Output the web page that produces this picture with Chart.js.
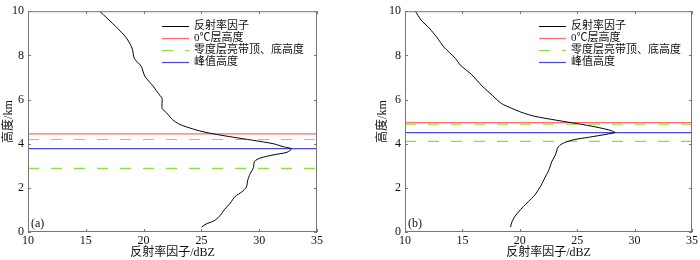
<!DOCTYPE html>
<html>
<head>
<meta charset="utf-8">
<script src="https://cdn.jsdelivr.net/npm/chart.js@4"></script>
<style>
  body { margin: 0; background: #fff; }
  .wrap { position: relative; width: 700px; height: 260px; }
  .box { position: absolute; top: 0; width: 350px; height: 260px; }
</style>
</head>
<body>
<div class="wrap">
  <div class="box" style="left:0"><canvas id="chartA"></canvas></div>
  <div class="box" style="left:350px"><canvas id="chartB"></canvas></div>
</div>
<script>
// (a) reflectivity profile
var dbzA = [16.2, 17.6, 18.5, 19.0, 19.2, 19.8, 20.1, 20.8, 21.4, 21.6, 21.6, 22.0, 22.5, 23.1, 24.3, 25.4, 27.2, 29.5, 31.2, 32.1, 32.8, 32.4, 31.2, 30.1, 29.6, 29.5, 29.2, 29.0, 28.9, 28.5, 27.9, 27.5, 27.0, 26.6, 26.1, 25.4, 25.0];
var hgtA = [10.0, 9.3, 8.8, 8.33, 7.86, 7.5, 7.06, 6.62, 6.19, 6.04, 5.6, 5.39, 5.09, 4.88, 4.66, 4.51, 4.34, 4.15, 4.0, 3.86, 3.77, 3.61, 3.49, 3.35, 3.2, 2.91, 2.62, 2.33, 2.04, 1.82, 1.6, 1.31, 1.02, 0.73, 0.51, 0.36, 0.22];
// (b) reflectivity profile
var dbzB = [10.9, 11.4, 12.1, 12.8, 13.4, 14.4, 14.8, 15.8, 16.7, 17.6, 18.4, 19.3, 20.2, 21.3, 23.1, 24.5, 26.2, 27.7, 28.3, 27.7, 26.0, 24.8, 23.9, 23.35, 23.1, 22.8, 22.5, 22.2, 21.85, 21.3, 20.75, 20.2, 19.6, 19.3, 19.2];
var hgtB = [10.0, 9.6, 9.24, 8.8, 8.37, 7.86, 7.57, 7.13, 6.62, 6.19, 5.82, 5.6, 5.41, 5.24, 5.07, 4.95, 4.8, 4.63, 4.51, 4.44, 4.29, 4.19, 4.05, 3.86, 3.49, 3.2, 2.77, 2.47, 2.11, 1.67, 1.38, 1.09, 0.73, 0.44, 0.22];

// reference heights (km) for [a, b]
var zeroC = [4.44, 4.95];
var brightTop = [4.19, 4.88];
var brightBottom = [2.88, 4.1];
var peakHgt = [3.78, 4.5];

var panelTags = ["(a)", "(b)"];
var legendLabels = ["反射率因子", "0℃层高度", "零度层亮带顶、底高度", "峰值高度"];
var xTitle = "反射率因子/dBZ";
var yTitle = "高度/km";

var serif = "'Liberation Serif', 'Noto Sans CJK SC', serif";

function hline(y, color, dash) {
  return {
    data: [{x: 10, y: y}, {x: 35, y: y}],
    borderColor: color,
    borderWidth: 1.2,
    borderDash: dash || [],
    pointRadius: 0
  };
}

// inward ticks on all four sides + frame + legend + tag + y title
var decor = {
  id: 'decor',
  afterDatasetsDraw: function(chart, args, opts) {
    var ctx = chart.ctx, a = chart.chartArea;
    var xs = chart.scales.x, ys = chart.scales.y;
    ctx.save();
    ctx.strokeStyle = '#777';
    ctx.lineWidth = 1;
    ctx.strokeRect(a.left + 0.5, a.top + 0.5, a.right - a.left - 1, a.bottom - a.top - 1);
    ctx.beginPath();
    xs.ticks.forEach(function(t) {
      var px = Math.round(xs.getPixelForValue(t.value)) + 0.5;
      ctx.moveTo(px, a.bottom); ctx.lineTo(px, a.bottom - 3);
      ctx.moveTo(px, a.top); ctx.lineTo(px, a.top + 3);
    });
    ys.ticks.forEach(function(t) {
      var py = Math.round(ys.getPixelForValue(t.value)) + 0.5;
      ctx.moveTo(a.left, py); ctx.lineTo(a.left + 3, py);
      ctx.moveTo(a.right, py); ctx.lineTo(a.right - 3, py);
    });
    ctx.stroke();

    // legend
    var lx = a.left + opts.legendX, ly = a.top + 15;
    var items = [0, 1, 2, 4];
    ctx.font = "11px " + serif;
    ctx.textBaseline = 'middle';
    ctx.fillStyle = '#111';
    items.forEach(function(di, i) {
      var ds = chart.data.datasets[di];
      var y = Math.round(ly + i * 12) + 0.5;
      ctx.strokeStyle = ds.borderColor;
      ctx.lineWidth = ds.borderWidth;
      ctx.setLineDash(ds.borderDash || []);
      ctx.beginPath();
      ctx.moveTo(lx, y); ctx.lineTo(lx + 27, y);
      ctx.stroke();
      ctx.setLineDash([]);
      ctx.fillText(legendLabels[i], lx + 32, y);
    });

    ctx.font = "12px " + serif;
    ctx.textBaseline = 'alphabetic';
    ctx.fillText(opts.tag, a.left + 3, a.bottom - 5);

    // y title
    ctx.translate(a.left - opts.yTitleOffset, (a.top + a.bottom) / 2);
    ctx.rotate(-Math.PI / 2);
    ctx.textAlign = 'center';
    ctx.textBaseline = 'middle';
    ctx.fillText(yTitle, 0, 0);
    ctx.restore();
  }
};

function makeChart(id, k, dbz, hgt, yWidth, padRight, yTitleOffset) {
  var pts = dbz.map(function(v, i) { return {x: v, y: hgt[i]}; });
  return new Chart(document.getElementById(id), {
    type: 'line',
    data: {
      datasets: [
        { data: pts, borderColor: '#000', borderWidth: 1, pointRadius: 0, tension: 0.25 },
        hline(zeroC[k], '#ff6b6b'),
        hline(brightTop[k], '#8be03a', [11, 12]),
        hline(brightBottom[k], '#8be03a', [11, 12]),
        hline(peakHgt[k], '#4848d8')
      ]
    },
    options: {
      responsive: false,
      animation: false,
      layout: { padding: { top: 2, right: padRight, left: 0, bottom: 0 } },
      plugins: {
        legend: { display: false },
        tooltip: { enabled: false },
        decor: { tag: panelTags[k], legendX: 134, yTitleOffset: yTitleOffset }
      },
      scales: {
        x: {
          type: 'linear', min: 10, max: 35,
          ticks: { stepSize: 5, color: '#111', font: { family: serif, size: 12 }, padding: 2 },
          grid: { display: false, drawTicks: false },
          border: { display: false },
          title: { display: true, text: xTitle, color: '#111', font: { family: serif, size: 12 }, padding: { top: 1, bottom: 0 } },
          afterFit: function(s) { s.height = 28; }
        },
        y: {
          type: 'linear', min: 0, max: 10,
          ticks: { stepSize: 2, color: '#111', font: { family: serif, size: 12 }, padding: 4 },
          grid: { display: false, drawTicks: false },
          border: { display: false },
          afterFit: function(s) { s.width = yWidth; }
        }
      }
    },
    plugins: [decor]
  });
}

['chartA', 'chartB'].forEach(function(id) {
  var c = document.getElementById(id);
  c.width = 350;
  c.height = 260;
});

makeChart('chartA', 0, dbzA, hgtA, 28, 33, 19);
makeChart('chartB', 1, dbzB, hgtB, 55, 6, 22);
</script>
</body>
</html>
